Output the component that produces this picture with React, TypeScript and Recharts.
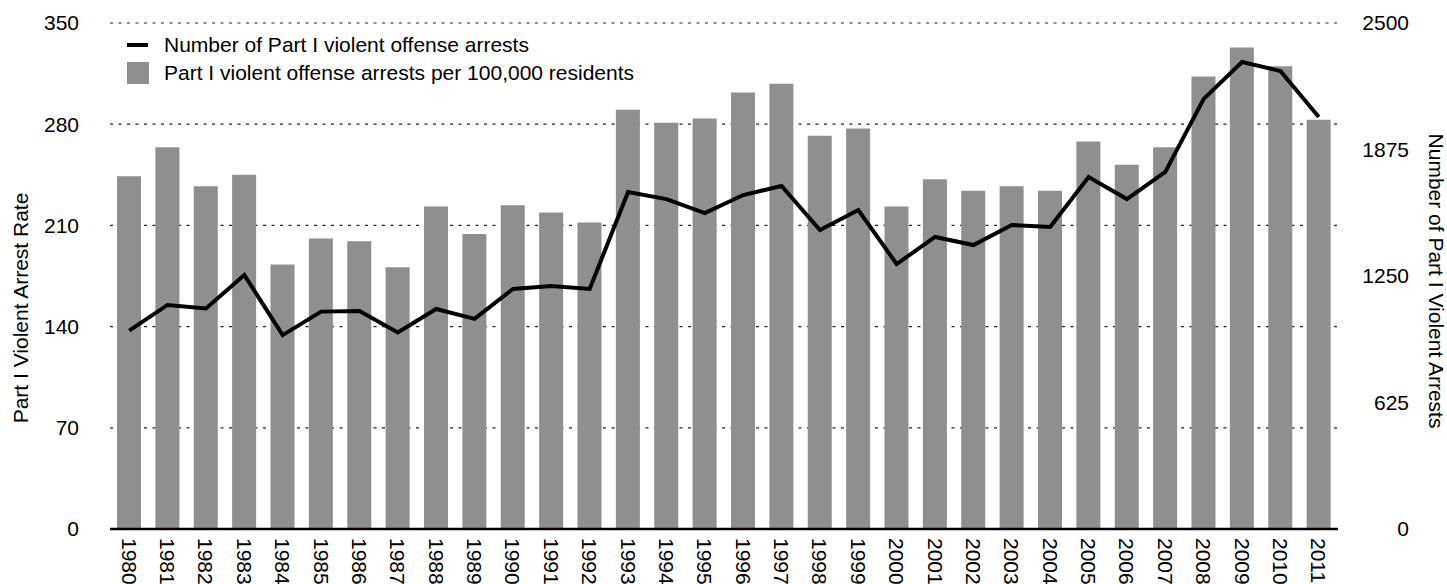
import { ComposedChart, Bar, Line, XAxis, YAxis, CartesianGrid, Legend } from "recharts";

const years = [
  "1980", "1981", "1982", "1983", "1984", "1985", "1986", "1987",
  "1988", "1989", "1990", "1991", "1992", "1993", "1994", "1995",
  "1996", "1997", "1998", "1999", "2000", "2001", "2002", "2003",
  "2004", "2005", "2006", "2007", "2008", "2009", "2010", "2011",
];

// arrests per 100,000 residents (left axis)
const arrestRate = [
  244, 264, 237, 245, 183, 201, 199, 181, 223, 204, 224, 219, 212, 290, 281, 284,
  302, 308, 272, 277, 223, 242, 234, 237, 234, 268, 252, 264, 313, 333, 320, 283,
];

// number of arrests (right axis)
const arrestCount = [
  980, 1107, 1090, 1255, 958, 1074, 1077, 971, 1087, 1038, 1186, 1201, 1186, 1665, 1630, 1561,
  1650, 1695, 1477, 1576, 1309, 1443, 1403, 1502, 1492, 1739, 1630, 1764, 2125, 2307, 2263, 2036,
];

const leftTicks = [0, 70, 140, 210, 280, 350];
const rightTicks = [0, 625, 1250, 1875, 2500];

const data = years.map((year, i) => ({
  year,
  rate: arrestRate[i],
  count: arrestCount[i],
}));

const FONT = "'Liberation Sans', Arial, Helvetica, sans-serif";
const BAR_GREY = "#8f8f8f";

function YearTick(props: any) {
  const { x, y, payload } = props;
  return (
    <text
      transform={`translate(${x},${y}) rotate(90)`}
      dy="0.355em"
      textAnchor="start"
      fontSize={21}
      fontFamily={FONT}
      fill="#000"
    >
      {payload.value}
    </text>
  );
}

function RightTick(props: any) {
  const { x, y, payload } = props;
  return (
    <text x={x + 71} y={y} dy="0.355em" textAnchor="end" fontSize={21} fontFamily={FONT} fill="#000">
      {payload.value}
    </text>
  );
}

function LegendBox() {
  return (
    <div style={{ fontFamily: FONT, fontSize: 21, color: "#000", lineHeight: "28px" }}>
      <div style={{ display: "flex", alignItems: "center", height: 28 }}>
        <div style={{ width: 21, height: 4, background: "#000", marginRight: 16 }} />
        <span>Number of Part I violent offense arrests</span>
      </div>
      <div style={{ display: "flex", alignItems: "center", height: 28 }}>
        <div style={{ width: 22, height: 22, background: BAR_GREY, marginRight: 15 }} />
        <span>Part I violent offense arrests per 100,000 residents</span>
      </div>
    </div>
  );
}

export default function App() {
  return (
    <div style={{ position: "absolute", left: 0, top: 0, width: 1447, height: 584, background: "#fff" }}>
      <ComposedChart
        width={1447}
        height={584}
        data={data}
        margin={{ top: 23, right: 0, bottom: 0, left: 0 }}
      >
        <CartesianGrid
          yAxisId="left"
          vertical={false}
          stroke="#222"
          strokeDasharray="3 5.5"
          strokeWidth={1.2}
        />
        <XAxis
          dataKey="year"
          interval={0}
          height={55}
          tickLine={false}
          tickSize={0}
          tickMargin={9}
          axisLine={{ stroke: "#000", strokeWidth: 2.5 }}
          tick={<YearTick />}
        />
        <YAxis
          yAxisId="left"
          orientation="left"
          width={110}
          domain={[0, 350]}
          ticks={leftTicks}
          axisLine={false}
          tickLine={false}
          tickSize={0}
          tickMargin={31}
          tick={{ fontSize: 21, fontFamily: FONT, fill: "#000" }}
          label={{
            content: (p: any) => {
              const vb = p.viewBox;
              const cx = 21;
              const cy = vb.y + vb.height / 2 + 32;
              return (
                <text
                  transform={`translate(${cx},${cy}) rotate(-90)`}
                  dy="0.355em"
                  textAnchor="middle"
                  fontSize={21}
                  fontFamily={FONT}
                  fill="#000"
                >
                  Part I Violent Arrest Rate
                </text>
              );
            },
          }}
        />
        <YAxis
          yAxisId="right"
          orientation="right"
          width={109}
          domain={[0, 2500]}
          ticks={rightTicks}
          axisLine={false}
          tickLine={false}
          tickSize={0}
          tickMargin={0}
          tick={<RightTick />}
          label={{
            content: (p: any) => {
              const vb = p.viewBox;
              const cx = 1436;
              const cy = vb.y + vb.height / 2 + 5;
              return (
                <text
                  transform={`translate(${cx},${cy}) rotate(90)`}
                  dy="0.355em"
                  textAnchor="middle"
                  fontSize={21}
                  fontFamily={FONT}
                  fill="#000"
                >
                  Number of Part I Violent Arrests
                </text>
              );
            },
          }}
        />
        <Legend
          layout="horizontal"
          verticalAlign="middle"
          align="center"
          content={<LegendBox />}
          wrapperStyle={{ position: "absolute", left: 127, top: 31, width: "auto", height: "auto" }}
        />
        <Bar
          yAxisId="left"
          dataKey="rate"
          name="Part I violent offense arrests per 100,000 residents"
          fill={BAR_GREY}
          barSize={24}
          isAnimationActive={false}
        />
        <Line
          yAxisId="right"
          dataKey="count"
          name="Number of Part I violent offense arrests"
          type="linear"
          stroke="#000"
          strokeWidth={4}
          dot={false}
          activeDot={false}
          isAnimationActive={false}
        />
      </ComposedChart>
    </div>
  );
}
